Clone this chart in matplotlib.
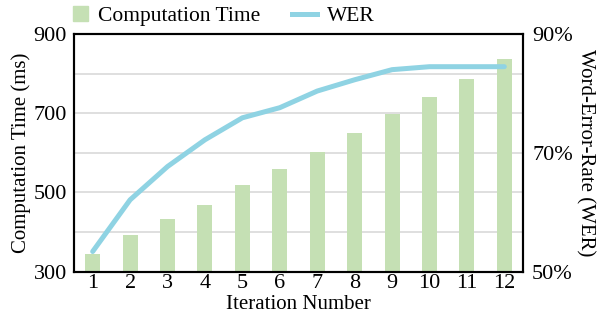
import matplotlib
matplotlib.use("Agg")
import matplotlib.pyplot as plt
from matplotlib.lines import Line2D
from matplotlib.patches import Patch, Rectangle
from matplotlib.legend_handler import HandlerPatch

plt.rcParams['font.family'] = ['Liberation Serif', 'DejaVu Serif']

iterations = [1, 2, 3, 4, 5, 6, 7, 8, 9, 10, 11, 12]
comp_time = [345, 393, 433, 468, 519, 559, 602, 649, 698, 742, 786, 836]
wer = [53.4, 62.1, 67.7, 72.2, 75.9, 77.6, 80.4, 82.3, 84.0, 84.5, 84.5, 84.5]
left_ticks = [300, 500, 700, 900]
right_ticks = [50, 70, 90]

bar_color = '#c5e0b4'
line_color = '#8fd3e3'

fig = plt.figure(figsize=(6, 3.14), dpi=100)
ax = fig.add_axes([0.1233, 0.1347, 0.7484, 0.757])
ax2 = ax.twinx()

ax.set_axisbelow(True)
ax.bar(iterations, comp_time, width=0.4, color=bar_color, zorder=2)
ax.set_ylim(300, 900)
ax.set_xlim(0.5, 12.5)
ax.set_yticks(left_ticks)
ax.set_yticks([400, 600, 800], minor=True)
ax.grid(axis='y', which='both', color='#d9d9d9', linewidth=1.2, zorder=0)
ax.set_xticks(iterations)
ax.tick_params(axis='y', which='both', length=0, labelsize=16, pad=5)
ax.tick_params(axis='x', which='both', length=0, labelsize=16, pad=2)
ax.set_xlabel('Iteration Number', fontsize=15, labelpad=1)
ax.set_ylabel('Computation Time (ms)', fontsize=15, labelpad=2)

ax2.plot(iterations, wer, color=line_color, linewidth=3.6, solid_capstyle='round', zorder=3)
ax2.set_ylim(50, 90)
ax2.set_yticks(right_ticks)
ax2.set_yticklabels([f'{t}%' for t in right_ticks])
ax2.tick_params(axis='y', length=0, labelsize=16, pad=6.5)
ax2.set_ylabel('Word-Error-Rate (WER)', fontsize=15, rotation=270, labelpad=16)

for a in (ax, ax2):
    for s in a.spines.values():
        s.set_linewidth(1.5)
        s.set_color('black')


def square_right(legend, orig_handle, xdescent, ydescent, width, height, fontsize):
    side = height
    return Rectangle((width - side - xdescent, -ydescent), side, side)


handles = [Patch(color=bar_color, label='Computation Time'),
           Line2D([0], [0], color=line_color, linewidth=3.6, label='WER')]
fig.legend(handles=handles, loc='center left', bbox_to_anchor=(0.105, 0.948), ncol=2,
           frameon=False, fontsize=15.5, handlelength=1.16, handleheight=0.7,
           columnspacing=1.5, handletextpad=0.45, borderaxespad=0, borderpad=0,
           handler_map={Patch: HandlerPatch(patch_func=square_right)})

fig.savefig('out.png', dpi=100)
